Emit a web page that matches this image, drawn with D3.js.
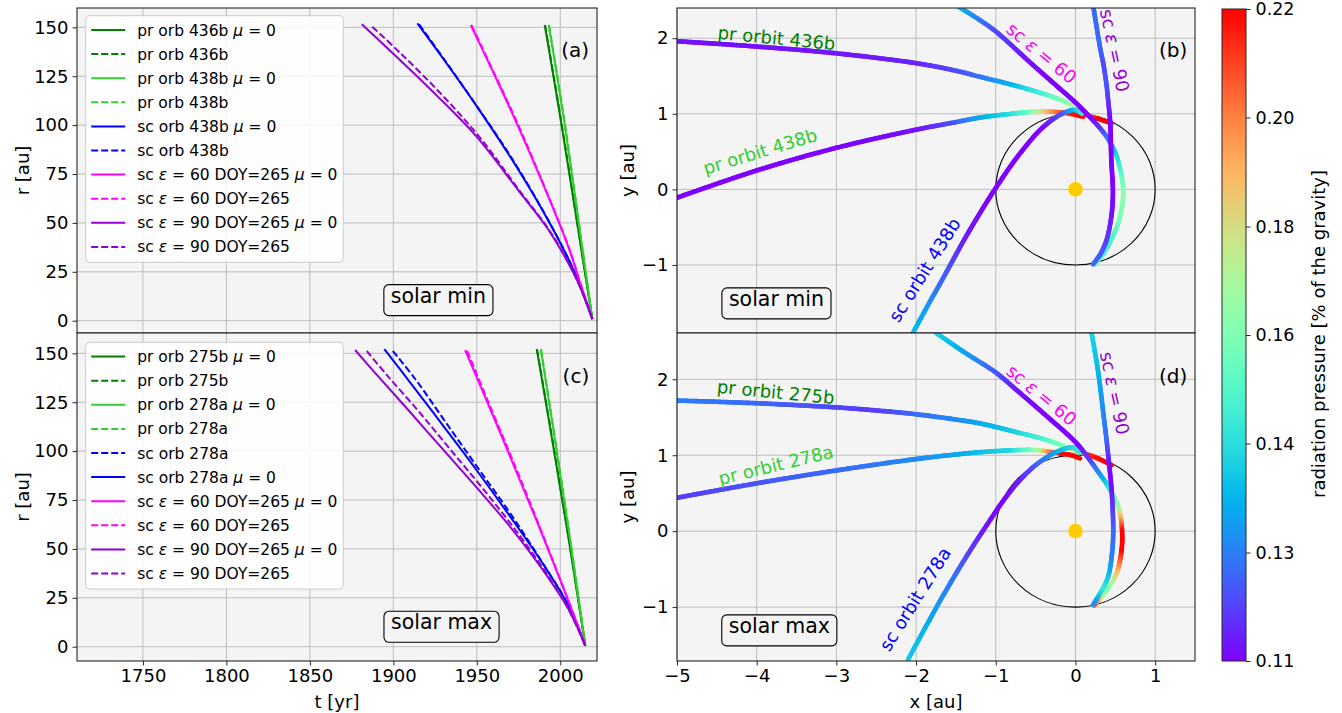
<!DOCTYPE html>
<html>
<head>
<meta charset="utf-8">
<script src="https://cdn.jsdelivr.net/npm/d3@7"></script>
<style>
body { margin: 0; background: #fff; }
text { font-family: "DejaVu Sans", sans-serif; fill: #000; }
</style>
</head>
<body>
<script>
var width = 1342, height = 713;

// colour bar: radiation pressure range
var muMin = 0.11, muMax = 0.22;
var cbTicks = [0.11, 0.1283, 0.1467, 0.165, 0.1833, 0.2017, 0.22];
var cbLabels = ["0.11", "0.13", "0.14", "0.16", "0.18", "0.20", "0.22"];

var tTicks = [1750, 1800, 1850, 1900, 1950, 2000];
var rTicks = [0, 25, 50, 75, 100, 125, 150];
var xTicks = [-5, -4, -3, -2, -1, 0, 1];
var yTicks = [-1, 0, 1, 2];

// (a) solar min, [t, r]
var a_pr436_mu0 = [[1990.7,151.2],[2000,104],[2010,50.5],[2019.2,0.8]];
var a_pr436     = [[1990.9,151.0],[2000.2,104],[2010.1,50.4],[2019.2,0.8]];
var a_pr438_mu0 = [[1993.1,151.2],[2002,104],[2011,50.5],[2019.2,0.8]];
var a_pr438     = [[1993.3,151.0],[2002.2,104],[2011.1,50.4],[2019.2,0.8]];
var a_sc438_mu0 = [[1914.4,152],[1930,133.8],[1950,109.6],[1970,83.8],[1990,55.5],[2005,31.3],[2012,17.5],[2019.2,0.8]];
var a_sc438     = [[1915.5,151.5],[1931,133],[1951,108.5],[1971,83],[1990.5,55],[2005.2,31],[2012.1,17.3],[2019.2,0.8]];
var a_e60_mu0   = [[1946.4,151.2],[1960,126.7],[1975,98.9],[1990,69.2],[2005,37.4],[2012,19],[2019.2,0.8]];
var a_e60       = [[1946.9,151],[1960.5,126.5],[1975.5,98.8],[1990.3,69],[2005.2,37.3],[2012.1,19],[2019.2,0.8]];
var a_e90_mu0   = [[1881.1,151.6],[1900,136.5],[1925,116],[1950,94],[1975,66.5],[1993,46.4],[2007,26],[2013,15],[2019.2,0.8]];
var a_e90       = [[1887.4,150.3],[1904,137],[1928,116.5],[1952,93.5],[1976,66],[1994,45.5],[2007,26],[2013,15],[2019.2,0.8]];

// (c) solar max, [t, r]
var c_pr275_mu0 = [[1985.9,152.2],[1995,106.5],[2005,55.2],[2015,0.5]];
var c_pr275     = [[1986.1,152],[1995.2,106.3],[2005.1,55.1],[2015,0.5]];
var c_pr278_mu0 = [[1988.3,152.2],[1997,104.7],[2006,54.2],[2015,0.5]];
var c_pr278     = [[1988.5,152],[1997.2,104.5],[2006.1,54.1],[2015,0.5]];
var c_sc278     = [[1899.7,151.2],[1913,137],[1932,114],[1951,91],[1971,67],[1990,42],[2005,21],[2015,0.5]];
var c_sc278_mu0 = [[1894.6,152.2],[1910,135.2],[1930,112.8],[1950,90.1],[1970,66.5],[1990,41.9],[2005,20.8],[2015,0.5]];
var c_e60_mu0   = [[1943,151.7],[1955,127.6],[1970,97.1],[1985,66.1],[2000,34.1],[2010,12],[2015,0.5]];
var c_e60       = [[1944.3,151.2],[1956,127],[1970.8,96.8],[1985.5,66],[2000.2,34],[2010,12],[2015,0.5]];
var c_e90_mu0   = [[1877.1,151.7],[1890,139.1],[1910,120],[1930,100.6],[1950,81.3],[1970,61.3],[1990,38.7],[2005,19.1],[2015,0.5]];
var c_e90       = [[1884.1,151.2],[1896,139],[1915,120.5],[1934,101],[1953,81.5],[1972,61],[1991,38.5],[2005,19],[2015,0.5]];

// (b) solar min trajectories, [x, y, mu]
var b_pr436 = [[-5,1.96,0.112],[-4,1.89,0.112],[-3,1.8,0.113],[-2,1.67,0.115],[-1.5,1.57,0.12],[-1.2,1.49,0.126],[-0.78,1.38,0.138],[-0.36,1.25,0.155],[-0.11,1.15,0.167],[0.056,1.05,0.178],[0.14,0.985,0.205],[0.3,0.93,0.22],[0.454,0.875,0.22]];
var b_pr438 = [[-5,-0.11,0.11],[-4,0.25,0.11],[-3,0.55,0.11],[-2,0.79,0.112],[-1.5,0.89,0.122],[-1.2,0.95,0.135],[-0.8,1.0,0.147],[-0.57,1.025,0.16],[-0.36,1.03,0.19],[-0.11,1.01,0.215],[0.098,0.962,0.22]];
var b_sc438 = [[-2.04,-1.9,0.14],[-1.86,-1.55,0.133],[-1.68,-1.21,0.125],[-1.36,-0.6,0.113],[-1.03,-0.03,0.11],[-0.7,0.47,0.11],[-0.4,0.83,0.11],[-0.15,1.01,0.122],[0,1.05,0.14],[0.08,1.0,0.15]];
var b_e60   = [[-1.47,2.42,0.138],[-1.2,2.24,0.128],[-1,2.09,0.12],[-0.58,1.69,0.112],[-0.28,1.41,0.11],[0,1.15,0.11],[0.18,0.96,0.11],[0.3,0.82,0.115],[0.39,0.7,0.125],[0.46,0.57,0.135],[0.52,0.43,0.145],[0.58,0.17,0.158],[0.6,-0.05,0.168],[0.56,-0.36,0.165],[0.47,-0.62,0.155],[0.35,-0.85,0.152],[0.245,-0.99,0.162]];
var b_e90   = [[0.224,2.42,0.125],[0.31,1.87,0.125],[0.35,1.66,0.12],[0.39,1.38,0.122],[0.41,1.18,0.118],[0.435,0.9,0.11],[0.45,0.39,0.11],[0.47,-0.05,0.11],[0.45,-0.36,0.112],[0.39,-0.67,0.118],[0.31,-0.86,0.122],[0.22,-0.99,0.125]];

// (d) solar max trajectories, [x, y, mu]
var d_pr275 = [[-5,1.72,0.128],[-4,1.685,0.125],[-3,1.63,0.12],[-2.5,1.59,0.118],[-2,1.54,0.125],[-1.5,1.47,0.13],[-1.2,1.42,0.135],[-0.8,1.32,0.142],[-0.36,1.2,0.155],[-0.15,1.12,0.165],[-0.027,1.07,0.18],[0.08,1.03,0.2],[0.18,1.0,0.215],[0.32,0.94,0.22],[0.454,0.87,0.22]];
var d_pr278 = [[-5,0.44,0.118],[-4,0.63,0.122],[-3,0.8,0.125],[-2,0.95,0.13],[-1.5,1.01,0.135],[-1.2,1.04,0.14],[-0.8,1.065,0.145],[-0.57,1.07,0.16],[-0.45,1.065,0.175],[-0.36,1.05,0.195],[-0.19,1.025,0.22],[-0.05,1.0,0.22],[0.056,0.96,0.22]];
var d_sc278 = [[-2.1,-1.69,0.142],[-1.9,-1.3,0.138],[-1.7,-0.92,0.132],[-1.5,-0.56,0.126],[-1.3,-0.22,0.118],[-1.1,0.1,0.112],[-0.9,0.41,0.11],[-0.7,0.67,0.114],[-0.5,0.87,0.122],[-0.3,1.01,0.132],[-0.15,1.08,0.14],[-0.02,1.1,0.145],[0.05,1.03,0.15]];
var d_e60   = [[-1.76,2.62,0.145],[-1.4,2.36,0.135],[-1,2.09,0.122],[-0.74,1.86,0.113],[-0.41,1.56,0.11],[0.015,1.157,0.11],[0.18,0.937,0.118],[0.3,0.76,0.13],[0.41,0.59,0.145],[0.54,0.31,0.17],[0.585,0,0.22],[0.575,-0.28,0.22],[0.51,-0.57,0.19],[0.38,-0.79,0.16],[0.235,-0.98,0.21]];
var d_e90   = [[0.2,2.62,0.145],[0.27,2.2,0.14],[0.31,1.9,0.135],[0.35,1.55,0.13],[0.39,1.2,0.125],[0.43,0.805,0.11],[0.454,0.54,0.112],[0.474,-0.03,0.125],[0.454,-0.34,0.128],[0.41,-0.6,0.14],[0.33,-0.78,0.15],[0.22,-0.97,0.13]];

var seriesA = [
  {label:"pr orb 436b _μ_ = 0", color:"green", dash:false, pts:a_pr436_mu0},
  {label:"pr orb 436b", color:"green", dash:true, pts:a_pr436},
  {label:"pr orb 438b _μ_ = 0", color:"limegreen", dash:false, pts:a_pr438_mu0},
  {label:"pr orb 438b", color:"limegreen", dash:true, pts:a_pr438},
  {label:"sc orb 438b _μ_ = 0", color:"blue", dash:false, pts:a_sc438_mu0},
  {label:"sc orb 438b", color:"blue", dash:true, pts:a_sc438},
  {label:"sc _ε_ = 60 DOY=265 _μ_ = 0", color:"magenta", dash:false, pts:a_e60_mu0},
  {label:"sc _ε_ = 60 DOY=265", color:"magenta", dash:true, pts:a_e60},
  {label:"sc _ε_ = 90 DOY=265 _μ_ = 0", color:"darkviolet", dash:false, pts:a_e90_mu0},
  {label:"sc _ε_ = 90 DOY=265", color:"darkviolet", dash:true, pts:a_e90}
];
var seriesC = [
  {label:"pr orb 275b _μ_ = 0", color:"green", dash:false, pts:c_pr275_mu0},
  {label:"pr orb 275b", color:"green", dash:true, pts:c_pr275},
  {label:"pr orb 278a _μ_ = 0", color:"limegreen", dash:false, pts:c_pr278_mu0},
  {label:"pr orb 278a", color:"limegreen", dash:true, pts:c_pr278},
  {label:"sc orb 278a", color:"blue", dash:true, pts:c_sc278},
  {label:"sc orb 278a _μ_ = 0", color:"blue", dash:false, pts:c_sc278_mu0},
  {label:"sc _ε_ = 60 DOY=265 _μ_ = 0", color:"magenta", dash:false, pts:c_e60_mu0},
  {label:"sc _ε_ = 60 DOY=265", color:"magenta", dash:true, pts:c_e60},
  {label:"sc _ε_ = 90 DOY=265 _μ_ = 0", color:"darkviolet", dash:false, pts:c_e90_mu0},
  {label:"sc _ε_ = 90 DOY=265", color:"darkviolet", dash:true, pts:c_e90}
];

// curve labels in data coordinates
var labelsB = [
  {text:"pr orbit 436b", x:-3.75, y:2.01, rot:5.5, color:"green"},
  {text:"pr orbit 438b", x:-3.96, y:0.51, rot:-17, color:"limegreen"},
  {text:"sc orbit 438b", x:-1.9, y:-1.06, rot:-58, color:"blue"},
  {text:"sc _ε_ = 60", x:-0.42, y:1.81, rot:39.5, color:"magenta"},
  {text:"sc _ε_ = 90", x:0.5, y:1.84, rot:78, color:"darkviolet"}
];
var labelsD = [
  {text:"pr orbit 275b", x:-3.76, y:1.84, rot:5.5, color:"green"},
  {text:"pr orbit 278a", x:-3.76, y:0.88, rot:-13.6, color:"limegreen"},
  {text:"sc orbit 278a", x:-2.02, y:-0.89, rot:-58, color:"blue"},
  {text:"sc _ε_ = 60", x:-0.42, y:1.8, rot:39.5, color:"magenta"},
  {text:"sc _ε_ = 90", x:0.5, y:1.82, rot:78, color:"darkviolet"}
];

var boxA = {x0:77, x1:597, y0:8, y1:333};
var boxC = {x0:77, x1:597, y0:333, y1:661};
var boxB = {x0:677, x1:1195, y0:8, y1:333};
var boxD = {x0:677, x1:1195, y0:333, y1:661};

var xT = d3.scaleLinear().domain([1710.5, 2022]).range([boxA.x0, boxA.x1]);
var yA = d3.scaleLinear().domain([-6.3, 159.9]).range([boxA.y1, boxA.y0]);
var yC = d3.scaleLinear().domain([-7.3, 160.4]).range([boxC.y1, boxC.y0]);
var xXY = d3.scaleLinear().domain([-5, 1.5]).range([boxB.x0, boxB.x1]);
var yB = d3.scaleLinear().domain([-1.9, 2.4]).range([boxB.y1, boxB.y0]);
var yD = d3.scaleLinear().domain([-1.71, 2.61]).range([boxD.y1, boxD.y0]);
var muNorm = d3.scaleLinear().domain([muMin, muMax]).range([0, 1]).clamp(true);
var yCb = d3.scaleLinear().domain([muMin, muMax]).range([661, 9]);

// matplotlib "rainbow"
function rainbow(v) {
  var t = muNorm(v);
  var r = Math.min(1, Math.abs(2 * t - 0.5)), g = Math.sin(Math.PI * t), b = Math.cos(Math.PI * t / 2);
  return d3.rgb(255 * r, 255 * g, 255 * b).formatHex();
}

var svg = d3.select("body").append("svg").attr("width", width).attr("height", height);

function richText(sel, str) {
  sel.style("white-space", "pre");
  str.split("_").forEach(function(s, i) {
    sel.append("tspan").text(s).attr("font-style", i % 2 ? "italic" : null);
  });
}

function makeAxes(id, box, xs, ys, xt, yt, showX) {
  var g = svg.append("g");
  g.append("rect").attr("x", box.x0).attr("y", box.y0)
    .attr("width", box.x1 - box.x0).attr("height", box.y1 - box.y0).attr("fill", "#f4f4f4");
  g.append("clipPath").attr("id", id).append("rect").attr("x", box.x0).attr("y", box.y0)
    .attr("width", box.x1 - box.x0).attr("height", box.y1 - box.y0);
  g.append("g").selectAll("line").data(xt).join("line")
    .attr("x1", xs).attr("x2", xs).attr("y1", box.y0).attr("y2", box.y1)
    .attr("stroke", "#bdbdbd").attr("stroke-width", 1);
  g.append("g").selectAll("line").data(yt).join("line")
    .attr("y1", ys).attr("y2", ys).attr("x1", box.x0).attr("x2", box.x1)
    .attr("stroke", "#bdbdbd").attr("stroke-width", 1);
  var content = g.append("g").attr("clip-path", "url(#" + id + ")");
  var over = svg.append("g");
  over.append("rect").attr("x", box.x0).attr("y", box.y0)
    .attr("width", box.x1 - box.x0).attr("height", box.y1 - box.y0)
    .attr("fill", "none").attr("stroke", "#262626").attr("stroke-width", 1.1);
  var ya = over.append("g").attr("transform", "translate(" + box.x0 + ",0)")
    .call(d3.axisLeft(ys).tickValues(yt).tickSize(4.5).tickPadding(4).tickFormat(d3.format("d")));
  styleAxis(ya, 18);
  if (showX) {
    var xa = over.append("g").attr("transform", "translate(0," + box.y1 + ")")
      .call(d3.axisBottom(xs).tickValues(xt).tickSize(4.5).tickPadding(4).tickFormat(d3.format("d")));
    styleAxis(xa, 18);
  }
  return {content: content, over: over};
}

function styleAxis(a, fs) {
  a.select(".domain").remove();
  a.selectAll(".tick line").attr("stroke", "#262626").attr("stroke-width", 1);
  a.selectAll(".tick text").attr("font-size", fs).attr("font-family", "DejaVu Sans").attr("fill", "#000");
}

function drawRT(ax, series, ys) {
  var line = d3.line().curve(d3.curveCatmullRom).x(function(d){ return xT(d[0]); }).y(function(d){ return ys(d[1]); });
  ax.content.selectAll("path.s").data(series).join("path")
    .attr("d", function(d){ return line(d.pts); })
    .attr("fill", "none").attr("stroke", function(d){ return d.color; })
    .attr("stroke-width", 2).attr("stroke-dasharray", function(d){ return d.dash ? "7,3" : null; });
}

function legend(series, x, y, w, h) {
  var g = svg.append("g");
  g.append("rect").attr("x", x).attr("y", y).attr("width", w).attr("height", h).attr("rx", 4)
    .attr("fill", "#fff").attr("fill-opacity", 0.85).attr("stroke", "#cccccc");
  var rows = g.selectAll("g").data(series).join("g")
    .attr("transform", function(d, i){ return "translate(" + (x + 5.5) + "," + (y + 14.3 + i * 24.1) + ")"; });
  rows.append("line").attr("x1", 0).attr("x2", 34).attr("stroke", function(d){ return d.color; })
    .attr("stroke-width", 2).attr("stroke-dasharray", function(d){ return d.dash ? "7,3" : null; });
  rows.append("text").attr("x", 46).attr("dy", "0.36em").attr("font-size", 15.5)
    .each(function(d){ richText(d3.select(this), d.label); });
}

function colouredCurve(g, pts, xs, ys) {
  var px = pts.map(function(d){ return [xs(d[0]), ys(d[1])]; });
  var cum = [0];
  for (var i = 1; i < px.length; i++) cum.push(cum[i - 1] + Math.hypot(px[i][0] - px[i - 1][0], px[i][1] - px[i - 1][1]));
  var tot = cum[cum.length - 1];
  var muAt = d3.scaleLinear().domain(cum).range(pts.map(function(d){ return d[2]; }));
  var tmp = g.append("path").attr("d", d3.line().curve(d3.curveCatmullRom.alpha(0.5))(px));
  var node = tmp.node(), L = node.getTotalLength(), n = Math.ceil(L / 2);
  var segs = [], prev = node.getPointAtLength(0);
  for (var k = 1; k <= n; k++) {
    var s = L * k / n, p = node.getPointAtLength(s);
    segs.push({x1: prev.x, y1: prev.y, x2: p.x, y2: p.y, mu: muAt((s - L / n / 2) / L * tot)});
    prev = p;
  }
  tmp.remove();
  g.append("g").selectAll("line").data(segs).join("line")
    .attr("x1", function(d){ return d.x1; }).attr("y1", function(d){ return d.y1; })
    .attr("x2", function(d){ return d.x2; }).attr("y2", function(d){ return d.y2; })
    .attr("stroke", function(d){ return rainbow(d.mu); })
    .attr("stroke-width", 4.6).attr("stroke-linecap", "round");
}

function drawXY(ax, curves, labels, ys) {
  var g = ax.content;
  g.append("ellipse").attr("cx", xXY(0)).attr("cy", ys(0))
    .attr("rx", xXY(1) - xXY(0)).attr("ry", ys(0) - ys(1))
    .attr("fill", "none").attr("stroke", "#000").attr("stroke-width", 1.1);
  g.append("circle").attr("cx", xXY(0)).attr("cy", ys(0)).attr("r", 7.3).attr("fill", "#ffcc00");
  curves.forEach(function(c){ colouredCurve(g, c, xXY, ys); });
  labels.forEach(function(l) {
    var t = svg.append("text")
      .attr("transform", "translate(" + xXY(l.x) + "," + ys(l.y) + ") rotate(" + l.rot + ")")
      .attr("text-anchor", "middle").attr("dominant-baseline", "central")
      .attr("font-size", 18).style("fill", l.color);
    richText(t, l.text);
  });
}

function panelTag(box, s) {
  svg.append("text").attr("x", box.x0 + 0.985 * (box.x1 - box.x0)).attr("y", box.y0 + 0.13 * (box.y1 - box.y0))
    .attr("text-anchor", "end").attr("dominant-baseline", "central").attr("font-size", 20).text(s);
}

function solarBox(box, fx, fy, s) {
  var t = svg.append("text").attr("x", box.x0 + fx * (box.x1 - box.x0)).attr("y", box.y0 + fy * (box.y1 - box.y0))
    .attr("text-anchor", "middle").attr("dominant-baseline", "central").attr("font-size", 20.5).text(s);
  var bb = t.node().getBBox();
  svg.insert("rect", function(){ return t.node(); })
    .attr("x", bb.x - 7).attr("y", bb.y + 1).attr("width", bb.width + 14).attr("height", bb.height + 7)
    .attr("rx", 5).attr("fill", "#f4f4f4").attr("stroke", "#000").attr("stroke-width", 1.1);
}

// left column
var axA = makeAxes("clipA", boxA, xT, yA, tTicks, rTicks, false);
drawRT(axA, seriesA, yA);
var axC = makeAxes("clipC", boxC, xT, yC, tTicks, rTicks, true);
drawRT(axC, seriesC, yC);
legend(seriesA, 85.7, 15.7, 257.6, 246.6);
legend(seriesC, 85.7, 342.3, 257.6, 246.7);
panelTag(boxA, "(a)");
panelTag(boxC, "(c)");
solarBox(boxA, 0.695, 0.885, "solar min");
solarBox(boxC, 0.701, 0.882, "solar max");

// right column
var axB = makeAxes("clipB", boxB, xXY, yB, xTicks, yTicks, false);
drawXY(axB, [b_pr436, b_pr438, b_sc438, b_e60, b_e90], labelsB, yB);
var axD = makeAxes("clipD", boxD, xXY, yD, xTicks, yTicks, true);
drawXY(axD, [d_pr275, d_pr278, d_sc278, d_e60, d_e90], labelsD, yD);
panelTag(boxB, "(b)");
panelTag(boxD, "(d)");
solarBox(boxB, 0.192, 0.895, "solar min");
solarBox(boxD, 0.1975, 0.893, "solar max");

// axis labels
function axLabel(x, y, rot, s) {
  svg.append("text").attr("transform", "translate(" + x + "," + y + ") rotate(" + rot + ")")
    .attr("text-anchor", "middle").attr("dominant-baseline", "central").attr("font-size", 18).text(s);
}
axLabel(22, (boxA.y0 + boxA.y1) / 2, -90, "r [au]");
axLabel(22, (boxC.y0 + boxC.y1) / 2, -90, "r [au]");
axLabel(627, (boxB.y0 + boxB.y1) / 2, -90, "y [au]");
axLabel(627, (boxD.y0 + boxD.y1) / 2, -90, "y [au]");
axLabel((boxC.x0 + boxC.x1) / 2, 701, 0, "t [yr]");
axLabel((boxD.x0 + boxD.x1) / 2, 701, 0, "x [au]");

// colour bar
var defs = svg.append("defs");
var grad = defs.append("linearGradient").attr("id", "cbgrad").attr("x1", 0).attr("y1", 1).attr("x2", 0).attr("y2", 0);
grad.selectAll("stop").data(d3.range(0, 1.0001, 0.02)).join("stop")
  .attr("offset", function(d){ return d; })
  .attr("stop-color", function(d){ return rainbow(muMin + d * (muMax - muMin)); });
svg.append("rect").attr("x", 1222).attr("y", yCb(muMax)).attr("width", 24).attr("height", yCb(muMin) - yCb(muMax))
  .attr("fill", "url(#cbgrad)").attr("stroke", "#262626").attr("stroke-width", 1);
var cb = svg.append("g").attr("transform", "translate(1246,0)")
  .call(d3.axisRight(yCb).tickValues(cbTicks).tickSize(4.5).tickPadding(5)
    .tickFormat(function(d, i){ return cbLabels[i]; }));
styleAxis(cb, 17.5);
axLabel(1318, 334, -90, "radiation pressure [% of the gravity]");
</script>
</body>
</html>
